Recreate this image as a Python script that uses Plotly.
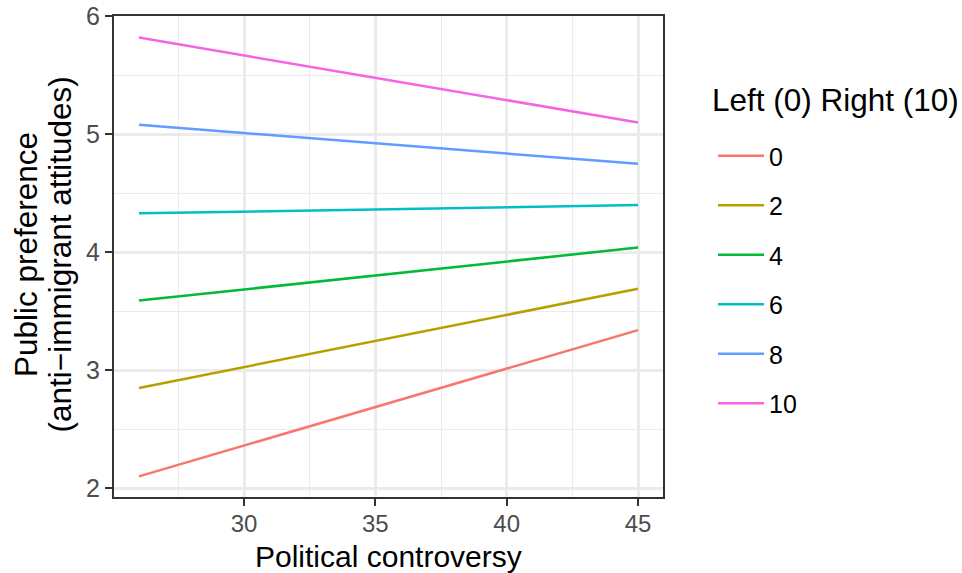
import plotly.graph_objects as go

# Data
ideology_levels = ["0", "2", "4", "6", "8", "10"]
controversy = [26, 45]
pref_0 = [2.10, 3.34]
pref_2 = [2.85, 3.69]
pref_4 = [3.59, 4.04]
pref_6 = [4.33, 4.40]
pref_8 = [5.08, 4.75]
pref_10 = [5.82, 5.10]
series_values = [pref_0, pref_2, pref_4, pref_6, pref_8, pref_10]
colors = ["#F8766D", "#B79F00", "#00BA38", "#00BFC4", "#619CFF", "#F564E3"]

x_ticks = [30, 35, 40, 45]
y_ticks = [2, 3, 4, 5, 6]

FONT = "Liberation Sans, Arial, Helvetica, sans-serif"
TITLE_SIZE = 31.5
TEXT_SIZE = 25

fig = go.Figure()
for lvl, vals, col in zip(ideology_levels, series_values, colors):
    fig.add_trace(go.Scatter(
        x=controversy, y=vals, mode="lines", name=lvl,
        legendgroup=lvl,
        line=dict(color=col, width=2.5),
    ))

axis_common = dict(
    showline=True, mirror=True, linecolor="#333333", linewidth=2,
    ticks="outside", ticklen=7, tickwidth=2, tickcolor="#333333",
    showgrid=True, gridcolor="#EBEBEB", gridwidth=2.5,
    zeroline=False, automargin=False,
    tickfont=dict(family=FONT, size=TEXT_SIZE, color="#4D4D4D"),
)

fig.update_xaxes(
    **axis_common,
    range=[25.05, 45.95],
    tickvals=x_ticks,
    minor=dict(tickvals=[27.5, 32.5, 37.5, 42.5], showgrid=True,
               gridcolor="#EBEBEB", gridwidth=1.2, ticks=""),
)
fig.update_xaxes(tickfont=dict(family=FONT, size=24, color="#4D4D4D"),
                 ticklabelstandoff=-3)
fig.update_yaxes(
    **axis_common,
    range=[1.925, 6.003],
    tickvals=y_ticks,
    minor=dict(tickvals=[2.5, 3.5, 4.5, 5.5], showgrid=True,
               gridcolor="#EBEBEB", gridwidth=1.2, ticks=""),
)

# x-axis title
fig.add_annotation(text="Political controversy", xref="paper", yref="paper",
                   x=0.5, y=0, xanchor="center", yanchor="middle",
                   yshift=-59, showarrow=False, borderpad=0,
                   font=dict(family=FONT, size=30, color="black"))

# two-line y-axis title
fig.add_annotation(text="Public preference", xref="paper", yref="paper",
                   x=0, y=0.5, xanchor="center", yanchor="middle",
                   xshift=-88.5, yshift=2,
                   textangle=-90, showarrow=False,
                   font=dict(family=FONT, size=TITLE_SIZE, color="black"))
fig.add_annotation(text="(anti−immigrant attitudes)", xref="paper", yref="paper",
                   x=0, y=0.5, xanchor="center", yanchor="middle",
                   xshift=-55, yshift=2,
                   textangle=-90, showarrow=False,
                   font=dict(family=FONT, size=TITLE_SIZE, color="black"))

# legend title
fig.add_annotation(text="Left (0) Right (10)", xref="paper", yref="paper",
                   x=1.0893, y=0.8254, xanchor="left", yanchor="middle",
                   xshift=-2, showarrow=False,
                   font=dict(family=FONT, size=TITLE_SIZE, color="black"))

fig.update_layout(
    width=962, height=573,
    margin=dict(l=114, r=299, t=16, b=76, autoexpand=False),
    plot_bgcolor="white", paper_bgcolor="white",
    font=dict(family=FONT, color="black"),
    legend=dict(
        font=dict(family=FONT, size=TEXT_SIZE, color="black"),
        x=1.0911, xanchor="left", y=0.7567, yanchor="top",
        tracegroupgap=14, itemwidth=46,
        bgcolor="rgba(0,0,0,0)",
    ),
)

fig.write_html("out.html")
